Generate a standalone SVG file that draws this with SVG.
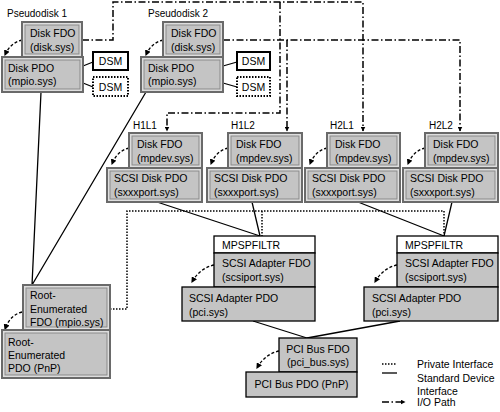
<svg xmlns="http://www.w3.org/2000/svg" width="500" height="412" viewBox="0 0 500 412">
<defs>
<style>
text{font-family:"Liberation Sans",Arial,sans-serif;font-size:10.5px;fill:#000}
.lbl{font-size:10px}
.bo{fill:#dedede;stroke:#6a6a6a;stroke-width:2}
.bi{fill:#c4c4c4;stroke:#8a8a8a;stroke-width:1}
.sb{fill:#c4c4c4;stroke:#000;stroke-width:1.3}
.wb{fill:#fff;stroke:#000;stroke-width:1.3}
.dsm{fill:#fff;stroke:#000;stroke-width:2}
.dsmd{fill:#fff;stroke:#000;stroke-width:2;stroke-dasharray:1.5 1.5}
.solid{fill:none;stroke:#000;stroke-width:1.3}
.dot{fill:none;stroke:#000;stroke-width:1.5;stroke-dasharray:1.5 1.5}
.io{fill:none;stroke:#000;stroke-width:1.5;stroke-dasharray:7 2.5 1.5 2.5;marker-end:url(#ah)}
.ion{fill:none;stroke:#000;stroke-width:1.5;stroke-dasharray:7 2.5 1.5 2.5}
.cv{fill:none;stroke:#000;stroke-width:1.3;stroke-dasharray:3 2;marker-end:url(#sh)}
</style>
<marker id="ah" viewBox="0 0 10 10" refX="9" refY="5" markerWidth="5" markerHeight="5" orient="auto" markerUnits="userSpaceOnUse"><path d="M0,0 L10,5 L0,10 z" fill="#000"/></marker>
<marker id="sh" viewBox="0 0 10 10" refX="8" refY="5" markerWidth="6" markerHeight="6" orient="auto" markerUnits="userSpaceOnUse"><path d="M0,0 L10,5 L0,10 z" fill="#000"/></marker>
</defs>

<g id="connectors">
<!-- I/O paths -->
<path class="io" d="M82,40 H113 V2 H363 V131"/>
<path class="io" d="M280,2 V113 H167 V131"/>
<path class="io" d="M223,40 H460 V131"/>
<path class="io" d="M287,40 V131"/>
<!-- DSM links -->
<path class="solid" d="M83,66 L93,62 M83,83 L93,87 M223,66 L237,62 M223,83 L237,87"/>
<!-- standard interfaces -->
<path class="solid" d="M41,92 L32,285 M146,92 L32,285"/>
<path class="solid" d="M157,202 L260,236 M252,202 L260,236 M358,202 L444,236 M452,202 L444,236"/>
<path class="solid" d="M253,321 L307,338 M400,321 L307,338"/>
<!-- private interface -->
<path class="dot" d="M110,309 H127 V211 H444 V236 M262,211 V236"/>
<!-- internal dashed arrows -->
<path class="cv" d="M22,40 Q10,43 5,55"/>
<path class="cv" d="M163,40 Q151,43 146,55"/>
<path class="cv" d="M129,148 Q117,151 112,164"/>
<path class="cv" d="M228,148 Q216,151 211,164"/>
<path class="cv" d="M327,148 Q315,151 310,164"/>
<path class="cv" d="M425,148 Q413,151 408,164"/>
<path class="cv" d="M214,265 Q200,268 192,282"/>
<path class="cv" d="M397,265 Q383,268 375,282"/>
<path class="cv" d="M279,351 Q265,354 257,368"/>
<path class="cv" d="M22,312 Q10,315 5,329"/>
</g>

<g id="pseudodisk1">
<text class="lbl" x="7" y="17">Pseudodisk 1</text>
<g id="p1-fdo"><rect class="bo" x="22" y="22" width="60" height="35"/><rect class="bi" x="25" y="25" width="54" height="29"/>
<text x="30" y="37">Disk FDO</text><text x="30" y="51">(disk.sys)</text></g>
<g id="p1-pdo"><rect class="bo" x="2" y="57" width="81" height="35"/><rect class="bi" x="5" y="60" width="75" height="29"/>
<text x="8" y="72">Disk PDO</text><text x="8" y="85">(mpio.sys)</text></g>
<g id="p1-dsm1"><rect class="dsm" x="93" y="52" width="35" height="18"/><text x="110.5" y="65" text-anchor="middle">DSM</text></g>
<g id="p1-dsm2"><rect class="dsmd" x="93" y="77" width="35" height="19"/><text x="110.5" y="91" text-anchor="middle">DSM</text></g>
</g>

<g id="pseudodisk2">
<text class="lbl" x="148" y="17">Pseudodisk 2</text>
<g id="p2-fdo"><rect class="bo" x="163" y="22" width="60" height="35"/><rect class="bi" x="166" y="25" width="54" height="29"/>
<text x="171" y="37">Disk FDO</text><text x="171" y="51">(disk.sys)</text></g>
<g id="p2-pdo"><rect class="bo" x="141" y="57" width="82" height="35"/><rect class="bi" x="144" y="60" width="76" height="29"/>
<text x="148" y="72">Disk PDO</text><text x="148" y="85">(mpio.sys)</text></g>
<g id="p2-dsm1"><rect class="dsm" x="237" y="52" width="33" height="18"/><text x="253.5" y="65" text-anchor="middle">DSM</text></g>
<g id="p2-dsm2"><rect class="dsmd" x="237" y="77" width="33" height="19"/><text x="253.5" y="91" text-anchor="middle">DSM</text></g>
</g>

<g id="h1l1">
<text class="lbl" x="133" y="129">H1L1</text>
<rect class="bo" x="129" y="133" width="73" height="35"/><rect class="bi" x="132" y="136" width="67" height="29"/>
<text x="137" y="148">Disk FDO</text><text x="137" y="162">(mpdev.sys)</text>
<rect class="bo" x="107" y="168" width="95" height="34"/><rect class="bi" x="110" y="171" width="89" height="28"/>
<text x="114" y="182">SCSI Disk PDO</text><text x="114" y="196">(sxxxport.sys)</text>
</g>
<g id="h1l2">
<text class="lbl" x="231" y="129">H1L2</text>
<rect class="bo" x="228" y="133" width="74" height="35"/><rect class="bi" x="231" y="136" width="68" height="29"/>
<text x="236" y="148">Disk FDO</text><text x="236" y="162">(mpdev.sys)</text>
<rect class="bo" x="207" y="168" width="95" height="34"/><rect class="bi" x="210" y="171" width="89" height="28"/>
<text x="214" y="182">SCSI Disk PDO</text><text x="214" y="196">(sxxxport.sys)</text>
</g>
<g id="h2l1">
<text class="lbl" x="330" y="129">H2L1</text>
<rect class="bo" x="327" y="133" width="73" height="35"/><rect class="bi" x="330" y="136" width="67" height="29"/>
<text x="335" y="148">Disk FDO</text><text x="335" y="162">(mpdev.sys)</text>
<rect class="bo" x="305" y="168" width="95" height="34"/><rect class="bi" x="308" y="171" width="89" height="28"/>
<text x="312" y="182">SCSI Disk PDO</text><text x="312" y="196">(sxxxport.sys)</text>
</g>
<g id="h2l2">
<text class="lbl" x="429" y="129">H2L2</text>
<rect class="bo" x="425" y="133" width="73" height="35"/><rect class="bi" x="428" y="136" width="67" height="29"/>
<text x="433" y="148">Disk FDO</text><text x="433" y="162">(mpdev.sys)</text>
<rect class="bo" x="403" y="168" width="95" height="34"/><rect class="bi" x="406" y="171" width="89" height="28"/>
<text x="410" y="182">SCSI Disk PDO</text><text x="410" y="196">(sxxxport.sys)</text>
</g>

<g id="adapter1">
<rect class="wb" x="214" y="236" width="101" height="17"/><text x="222" y="248.5">MPSPFILTR</text>
<rect class="sb" x="214" y="253" width="101" height="34"/>
<text x="222" y="267">SCSI Adapter FDO</text><text x="222" y="281">(scsiport.sys)</text>
<rect class="sb" x="182" y="287" width="133" height="34"/>
<text x="189" y="302">SCSI Adapter PDO</text><text x="189" y="316">(pci.sys)</text>
</g>
<g id="adapter2">
<rect class="wb" x="397" y="236" width="101" height="17"/><text x="405" y="248.5">MPSPFILTR</text>
<rect class="sb" x="397" y="253" width="101" height="34"/>
<text x="405" y="267">SCSI Adapter FDO</text><text x="405" y="281">(scsiport.sys)</text>
<rect class="sb" x="364" y="287" width="134" height="34"/>
<text x="372" y="302">SCSI Adapter PDO</text><text x="372" y="316">(pci.sys)</text>
</g>

<g id="pcibus">
<rect class="sb" x="279" y="338" width="78" height="34"/>
<text x="318" y="353" text-anchor="middle">PCI Bus FDO</text><text x="318" y="366" text-anchor="middle">(pci_bus.sys)</text>
<rect class="sb" x="246" y="372" width="111" height="25"/>
<text x="301.5" y="388" text-anchor="middle">PCI Bus PDO (PnP)</text>
</g>

<g id="root">
<rect class="bo" x="23" y="285" width="87" height="45"/><rect class="bi" x="26" y="288" width="81" height="39"/>
<text x="30" y="299">Root-</text><text x="30" y="313">Enumerated</text><text x="30" y="326">FDO (mpio.sys)</text>
<rect class="bo" x="2" y="330" width="108" height="48"/><rect class="bi" x="5" y="333" width="102" height="42"/>
<text x="8" y="346">Root-</text><text x="8" y="359">Enumerated</text><text x="8" y="372">PDO (PnP)</text>
</g>

<g id="legend">
<path class="dot" d="M382,364 H397"/>
<text x="417" y="368">Private Interface</text>
<path class="solid" d="M382,373 H397" stroke-width="1.6"/>
<text x="417" y="382">Standard Device</text>
<text x="417" y="395">Interface</text>
<path class="io" d="M382,402 H405"/>
<text x="417" y="406">I/O Path</text>
</g>
</svg>
